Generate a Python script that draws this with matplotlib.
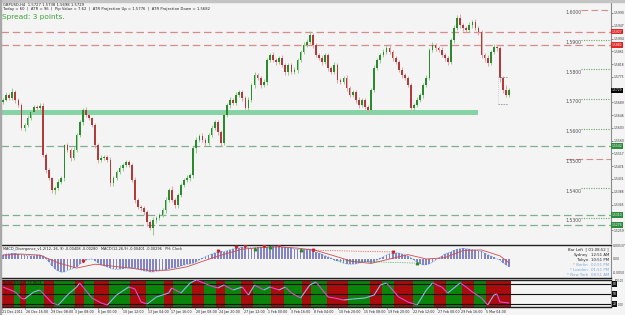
import matplotlib
matplotlib.use("Agg")
import matplotlib.pyplot as plt
import numpy as np
from matplotlib.collections import LineCollection
from matplotlib.patches import Rectangle

W, H = 625, 315
BG = "#f4f4f4"
PIP = 0.0001
BASE = 1.5

# GBPUSD H4 closes, pips above 1.5000 (one value per two bars of the screenshot)
CLOSES = [
    697, 714, 704, 724, 697, 680, 603, 613, 636, 657,
    673, 670, 677, 512, 461, 434, 394, 401, 421, 434,
    545, 529, 502, 529, 579, 623, 663, 646, 636, 613,
    545, 495, 502, 505, 495, 418, 434, 455, 468, 478,
    488, 478, 428, 360, 337, 333, 320, 286, 266, 293,
    300, 310, 327, 360, 394, 360, 343, 377, 411, 428,
    434, 444, 535, 562, 576, 562, 552, 579, 603, 623,
    589, 552, 646, 680, 697, 687, 714, 724, 704, 670,
    697, 747, 781, 771, 747, 758, 832, 848, 832, 825,
    838, 815, 791, 815, 791, 798, 832, 859, 882, 892,
    916, 882, 848, 838, 825, 848, 805, 791, 815, 764,
    758, 771, 737, 714, 724, 697, 680, 697, 673, 663,
    731, 805, 832, 848, 859, 872, 859, 838, 825, 798,
    781, 771, 747, 670, 680, 697, 714, 747, 771, 865,
    882, 872, 865, 848, 838, 825, 899, 939, 973, 949,
    939, 933, 949, 960, 939, 926, 848, 838, 822, 859,
    875, 872, 771, 731, 714, 729,
]
FIRST_OPEN = 690
WICK_UP = [
    6, 9, 5, 12, 7, 6, 8, 5, 9, 6,
    8, 7, 10, 9, 6, 8, 5, 7, 9, 6,
    5, 8, 6, 9, 7, 8, 6, 10, 7, 5,
    8, 6, 9, 7, 8, 10, 6, 7, 9, 8,
    6, 8, 7, 9, 6, 5, 8, 7, 6, 9,
    8, 7, 6, 9, 8, 12, 7, 6, 8, 7,
    9, 6, 8, 10, 7, 9, 8, 6, 9, 7,
    8, 6, 9, 7, 10, 8, 9, 7, 6, 8,
    10, 7, 9, 8, 6, 9, 7, 8, 10, 6,
    8, 9, 7, 8, 6, 9, 7, 8, 9, 10,
    12, 6, 8, 7, 9, 6, 8, 7, 9, 6,
    8, 7, 9, 6, 8, 7, 9, 6, 8, 7,
    6, 9, 8, 7, 9, 10, 12, 7, 8, 6,
    9, 7, 8, 6, 7, 9, 6, 8, 9, 7,
    10, 8, 6, 9, 7, 8, 6, 9, 10, 14,
    8, 7, 9, 6, 10, 8, 7, 6, 9, 8,
    10, 12, 7, 6, 15, 8,
]
WICK_DN = [
    7, 5, 8, 6, 9, 7, 6, 10, 8, 7,
    6, 9, 7, 8, 10, 8, 9, 14, 7, 8,
    9, 7, 10, 6, 8, 7, 9, 6, 8, 7,
    9, 10, 7, 8, 6, 9, 12, 8, 7, 9,
    6, 8, 7, 9, 8, 10, 9, 12, 8, 25,
    9, 8, 7, 9, 6, 8, 9, 10, 7, 8,
    7, 9, 8, 15, 7, 8, 9, 6, 8, 7,
    9, 10, 8, 6, 9, 7, 8, 6, 9, 7,
    12, 8, 9, 7, 8, 6, 9, 7, 8, 9,
    7, 8, 9, 10, 7, 8, 9, 6, 7, 8,
    6, 9, 7, 8, 10, 7, 9, 8, 6, 9,
    7, 8, 9, 7, 8, 9, 10, 8, 7, 6,
    14, 8, 7, 9, 6, 8, 7, 9, 8, 7,
    9, 8, 7, 10, 9, 8, 7, 9, 6, 8,
    7, 9, 8, 7, 9, 10, 8, 9, 7, 8,
    9, 7, 8, 10, 7, 9, 8, 12, 9, 7,
    8, 9, 12, 10, 8, 7,
]

# horizontal levels
RED_LINES = [1.5927, 1.5882]
GREEN_LINES = [1.5542, 1.5310, 1.5276]
BAND_LO, BAND_HI = 1.5646, 1.5662
BAND_END = 155
ROUND_LEVELS = [1.6000, 1.5900, 1.5800, 1.5700, 1.5600, 1.5500, 1.5400, 1.5300]
ROUND_RED = [1.6000, 1.5500]
ATR_UP, ATR_DN = 1.5776, 1.5682
BID = 1.5729
RIGHT_TICKS = [1.5990, 1.5947, 1.5904, 1.5861, 1.5818, 1.5775, 1.5689, 1.5646,
               1.5603, 1.5560, 1.5517, 1.5474, 1.5431, 1.5388, 1.5345, 1.5259]

# MACD histogram (x 1e-5)
MACD_HIST = [
    160, 190, 210, 220, 215, 200, 170, 140, 130, 125, 130, 140, 150, 130,
    20, -120, -260, -380, -460, -510, -500,
    -440, -400, -360, -290, -210, -120, -50, -10, 0,
    -60, -150, -220, -270, -310, -360, -390, -400, -390, -370, -350, -330, -330,
    -360, -400, -430, -460, -480, -500, -500, -480, -460, -440, -410, -380, -350,
    -330, -300, -270, -240, -210, -190, -170,
    -110, -40, 30, 90, 140, 190, 240, 280, 290, 280,
    320, 360, 390, 420, 440, 450, 450, 440, 430, 440, 450, 460, 470, 470, 490,
    500, 500, 490, 470, 450, 430, 410, 390, 380, 370, 370, 380, 390,
    300, 270, 230, 180, 130, 80, 30, -20, -70, -120, -160, -190, -200, -200,
    -190, -160, -130, -110, -120, -140,
    -110, -50, 20, 90, 150, 200, 230, 240, 230, 200, 160, 110, 50, -40,
    -120, -180, -220, -220, -190, -120, -40, 40, 120, 190, 240, 280,
    330, 370, 400, 410, 400, 380, 360, 340, 320, 290, 230, 170, 120, 60, 10,
    -50, -150, -240, -290,
]
SIGNAL_BARS = [0, 6, 12, 18, 24, 30, 36, 42, 48, 54, 60, 66, 72, 78, 84,
               90, 96, 102, 108, 114, 120, 126, 132, 138, 144, 150, 156, 162, 165]
SIGNAL_VALS = [150, 190, 150, -150, -350, -200, -280, -360, -440, -430, -300, -50,
               180, 380, 440, 470, 420, 330, 120, -100, -170, 0, 170, 0, 50, 330,
               350, 120, -150]
DIV_RED = [26, 70, 76, 79, 85, 90, 101, 127]
DIV_GREEN = [82, 87, 97, 135]

# oscillator panel
STOCH_BARS = [0, 4, 6, 7, 10, 12, 16, 18, 21, 24, 25, 29, 32, 34, 37, 41, 43, 45,
              47, 50, 54, 55, 58, 61, 63, 67, 70, 72, 75, 78, 80, 82, 85, 87, 90,
              92, 94, 97, 100, 102, 106, 108, 111, 114, 118, 121, 123, 125, 129,
              132, 135, 138, 140, 143, 145, 149, 151, 153, 156, 158, 160, 161,
              162, 165]
STOCH_VALS = [71, 56, 37, 35, 56, 62, 23, 17, 47, 71, 83, 38, 23, 17, 47, 71, 65, 26,
              20, 41, 53, 68, 53, 83, 92, 77, 68, 77, 62, 71, 47, 77, 62, 71, 62,
              71, 53, 38, 77, 86, 41, 38, 32, 35, 38, 47, 77, 83, 41, 26, 17, 62,
              83, 71, 53, 83, 71, 56, 38, 17, 47, 50, 26, 23]
ZONES = [(0, 4, "r"), (4, 6, "g"), (6, 8, "r"), (8, 14, "g"), (14, 17, "r"),
         (17, 24, "g"), (24, 27, "r"), (27, 30, "g"), (30, 35, "r"), (35, 42, "g"),
         (42, 47, "r"), (47, 53, "g"), (53, 56, "r"), (56, 62, "g"), (62, 66, "r"),
         (66, 70, "g"), (70, 73, "r"), (73, 78, "g"), (78, 82, "r"), (82, 88, "g"),
         (88, 92, "r"), (92, 98, "g"), (98, 101, "r"), (101, 106, "g"),
         (106, 113, "r"), (113, 120, "g"), (120, 124, "r"), (124, 128, "g"),
         (128, 134, "r"), (134, 141, "g"), (141, 145, "r"), (145, 150, "g"),
         (150, 154, "r"), (154, 158, "g"), (158, 166, "r")]

DATE_BARS = [-0.5, 7.3, 15.5, 23.0, 30.8, 38.9, 47.1, 54.5, 62.7, 70.2, 78.3,
             86.1, 93.6, 101.1, 109.3, 117.4, 125.2, 133.4, 141.5, 149.0, 157.2]
DATE_LABELS = ["21 Dec 2011", "26 Dec 16:00", "29 Dec 08:00", "3 Jan 08:00",
               "6 Jan 00:00", "10 Jan 12:00", "13 Jan 04:00", "17 Jan 16:00",
               "20 Jan 08:00", "24 Jan 20:00", "27 Jan 12:00", "1 Feb 00:00",
               "3 Feb 16:00", "8 Feb 04:00", "10 Feb 20:00", "15 Feb 08:00",
               "19 Feb 20:00", "22 Feb 12:00", "27 Feb 00:00", "29 Feb 16:00",
               "5 Mar 04:00"]

CLOCKS = [("Sydney", "12:51 AM"), ("Tokyo", "10:51 PM"), ("* Berlin", "02:51 PM"),
          ("* London", "01:51 PM"), ("* New York", "08:51 AM")]

XLIM = (-0.5, 198.2)


def rect(x0, y0, x1, y1):
    return [x0 / W, 1 - y1 / H, (x1 - x0) / W, (y1 - y0) / H]


def ftext(x, y, s, **kw):
    fig.text(x / W, 1 - y / H, s, **kw)


fig = plt.figure(figsize=(W / 100, H / 100), dpi=100, facecolor=BG)
fig.patches.append(Rectangle((0, 1 - 2 / H), 1, 2 / H, transform=fig.transFigure,
                             color="#c4c4c4", zorder=0))
fig.patches.append(Rectangle((0, 0), 1.5 / W, 1, transform=fig.transFigure,
                             color="#a8a8a8", zorder=0))

# ---------------- main price panel
ax = fig.add_axes(rect(1.5, 3, 611, 243))
ax.set_facecolor(BG)
closes = BASE + np.array(CLOSES) * PIP
opens = BASE + np.array([FIRST_OPEN] + CLOSES[:-1]) * PIP
xs = np.arange(len(closes))
up = closes >= opens
top = np.maximum(opens, closes)
bot = np.minimum(opens, closes)
highs = top + np.array(WICK_UP) * PIP
lows = bot - np.array(WICK_DN) * PIP
ax.vlines(xs, lows, highs, colors=np.where(up, "#8fcf8f", "#e3a5a5"), lw=0.7, zorder=3)
ax.bar(xs, np.maximum(top - bot, 0.00006), bottom=bot, width=0.55,
       color=np.where(up, "#2b8a2b", "#b33a3a"), linewidth=0, zorder=4)

for lv in RED_LINES:
    ax.axhline(lv, color="#d58c8c", lw=0.9, dashes=(6, 3), zorder=2)
for lv in GREEN_LINES:
    ax.axhline(lv, color="#7fae90", lw=0.9, dashes=(6, 3), zorder=2)
ax.fill_between([XLIM[0], BAND_END], BAND_LO, BAND_HI, color="#86d4a6", lw=0, zorder=2)

for lv in ROUND_LEVELS:
    red = lv in ROUND_RED
    ax.hlines(lv, 183.5 if lv == 1.5500 else 188.5, 198.2,
              colors="#d58c8c" if red else "#6aa86a",
              linestyles=(0, (6, 3)) if red else (0, (1, 1.2)), lw=0.8, zorder=2)
    ax.text(183.4, lv - 0.0001, f"{lv:.4f}", fontsize=3.3, color="#555555",
            ha="left", va="top", zorder=5)

ax.hlines([ATR_UP, ATR_DN], 161.5, 164.5, colors="#9a9a9a", lw=0.6,
          linestyles=(0, (2, 1)), zorder=5)
ax.vlines(161.5, ATR_DN, ATR_UP, colors="#b0b0b0", lw=0.5, linestyles=(0, (1, 2)), zorder=5)

ax.set_xlim(*XLIM)
ax.set_ylim(1.52155, 1.60236)
ax.yaxis.tick_right()
ax.set_yticks(RIGHT_TICKS)
ax.set_yticklabels([f"{t:.4f}" for t in RIGHT_TICKS])
ax.tick_params(axis="y", labelsize=2.15, length=1.2, width=0.4, pad=0.4,
               colors="#333333")
ax.set_xticks([])
for s in ["left", "top", "bottom"]:
    ax.spines[s].set_visible(False)
ax.spines["right"].set_color("#8a8a8a")
ax.spines["right"].set_linewidth(0.8)

ytr = ax.get_yaxis_transform()
for lv, fc in [(1.5927, "#e02828"), (1.5882, "#e02828"), (BID, "#000000"),
               (1.5542, "#2e8b3e"), (1.5310, "#2e8b3e"), (1.5276, "#2e8b3e")]:
    ax.text(1.0015, lv, f"{lv:.4f}", transform=ytr, fontsize=2.15, color="white",
            ha="left", va="center", clip_on=False,
            bbox=dict(boxstyle="square,pad=0.2", fc=fc, ec="none"))

ftext(3, 4.5, "GBPUSD,H4  1.5727 1.5738 1.5698 1.5729", fontsize=2.7,
      color="#222222", va="center")
ftext(3, 9, f"Today = 60  |  ATR = 96  |  Pip Value = 7.62  |  ATR Projection Up = {ATR_UP:.4f}"
      f"  |  ATR Projection Down = {ATR_DN:.4f}", fontsize=2.7, color="#222222", va="center")
ftext(2.5, 17.5, "Spread: 3 points.", fontsize=5.3, color="#3ba33b", va="center")

# ---------------- MACD panel
am = fig.add_axes(rect(1.5, 245, 611, 278))
am.set_facecolor(BG)
hist = np.array(MACD_HIST)
am.bar(xs, hist, width=0.6, color="#8484c4", linewidth=0, zorder=2)
am.plot(xs, hist, color="#5a9ae0", lw=0.6, ls=(0, (1, 1)), zorder=3)
am.plot(SIGNAL_BARS, SIGNAL_VALS, color="#d44a4a", lw=0.6, zorder=4)
am.plot(DIV_RED, hist[DIV_RED] + 40, ls="none", marker="v", ms=1.8, color="#d02020", zorder=5)
am.plot(DIV_GREEN, hist[DIV_GREEN] - 40, ls="none", marker="^", ms=1.8, color="#1f8f1f", zorder=5)
am.plot([DIV_RED[-2], DIV_RED[-1]], hist[[DIV_RED[-2], DIV_RED[-1]]] + 40, color="#d02020",
        lw=0.5, ls=(0, (1, 1.5)), zorder=5)
am.plot([108, DIV_GREEN[-1]], [hist[108] - 40, hist[DIV_GREEN[-1]] - 40], color="#1f8f1f",
        lw=0.5, ls=(0, (1, 1.5)), zorder=5)
am.set_xlim(*XLIM)
am.set_ylim(-733, 540)
am.set_xticks([])
am.set_yticks([])
for s in ["top", "bottom"]:
    am.spines[s].set_color("#202020")
    am.spines[s].set_linewidth(1.0)
am.spines["left"].set_visible(False)
am.spines["right"].set_color("#8a8a8a")
am.text(0.002, 0.93, "MACD_Divergence_v1.2(12, 26, 9) -0.00408 -0.00280   MACD(12,26,9) -0.00401 -0.00296   PH: Clock",
        transform=am.transAxes, fontsize=2.5, color="#222222", va="top")
mtr = am.get_yaxis_transform()
for v, lab in [(500, "0.00537"), (0, "0.00"), (-540, "-0.0050")]:
    am.text(1.003, v, lab, transform=mtr, fontsize=2.15, color="#333333",
            va="center", clip_on=False)
ftext(609, 249.5, "Bar Left  [ 01:08:52 ]", fontsize=2.8, color="#222222",
      ha="right", va="center")
for k, (name, val) in enumerate(CLOCKS):
    col = "#222222" if k < 2 else "#7aa6d8"
    yy = 254.7 + k * 5.0
    ftext(588, yy, name, fontsize=2.8, color=col, ha="right", va="center")
    ftext(609, yy, val, fontsize=2.8, color=col, ha="right", va="center")

# ---------------- oscillator panel
ao = fig.add_axes(rect(1.5, 280, 611, 307))
ao.set_facecolor(BG)
for a, b, c in ZONES:
    ao.axvspan(a - 0.5, b - 0.5, color="#a80c0c" if c == "r" else "#0a840a", lw=0, zorder=1)
for lv in [80, 50, 20]:
    ao.axhline(lv, color="#111111", lw=0.8, zorder=2)
pts = np.column_stack([STOCH_BARS, STOCH_VALS])
segs = np.stack([pts[:-1], pts[1:]], axis=1)
rising = np.diff(STOCH_VALS) > 0
ao.add_collection(LineCollection(segs, colors=np.where(rising, "#8fb4ee", "#e048d8"),
                                 linewidths=0.8, zorder=3))
ao.set_xlim(*XLIM)
ao.set_ylim(11, 92)
ao.set_xticks([])
ao.set_yticks([])
for s in ["top", "bottom"]:
    ao.spines[s].set_color("#202020")
    ao.spines[s].set_linewidth(1.0)
ao.spines["left"].set_visible(False)
ao.spines["right"].set_color("#8a8a8a")
ao.text(0.002, 0.97, "Trend_RSI(14) 13.9613", transform=ao.transAxes, fontsize=2.4,
        color="#301010", va="top")
otr = ao.get_yaxis_transform()
for lv in [80, 50, 20]:
    ao.text(1.003, lv, f"{lv}", transform=otr, fontsize=2.2, color="white", va="center",
            clip_on=False, bbox=dict(boxstyle="square,pad=0.2", fc="#111111", ec="none"))
ftext(624, 281.5, "100.00", fontsize=1.9, color="#333333", ha="right", va="center")
ftext(624, 305.5, "0.00", fontsize=1.9, color="#333333", ha="right", va="center")

dtr = ao.get_xaxis_transform()
for b, lab in zip(DATE_BARS, DATE_LABELS):
    ao.text(b + 0.3, -0.17, lab, transform=dtr, fontsize=2.3, color="#222222",
            ha="left", va="center", clip_on=False)
    ao.plot([b, b], [-0.02, -0.08], transform=dtr, color="#555555", lw=0.4, clip_on=False)

fig.savefig("out.png", dpi=100, facecolor=BG)
